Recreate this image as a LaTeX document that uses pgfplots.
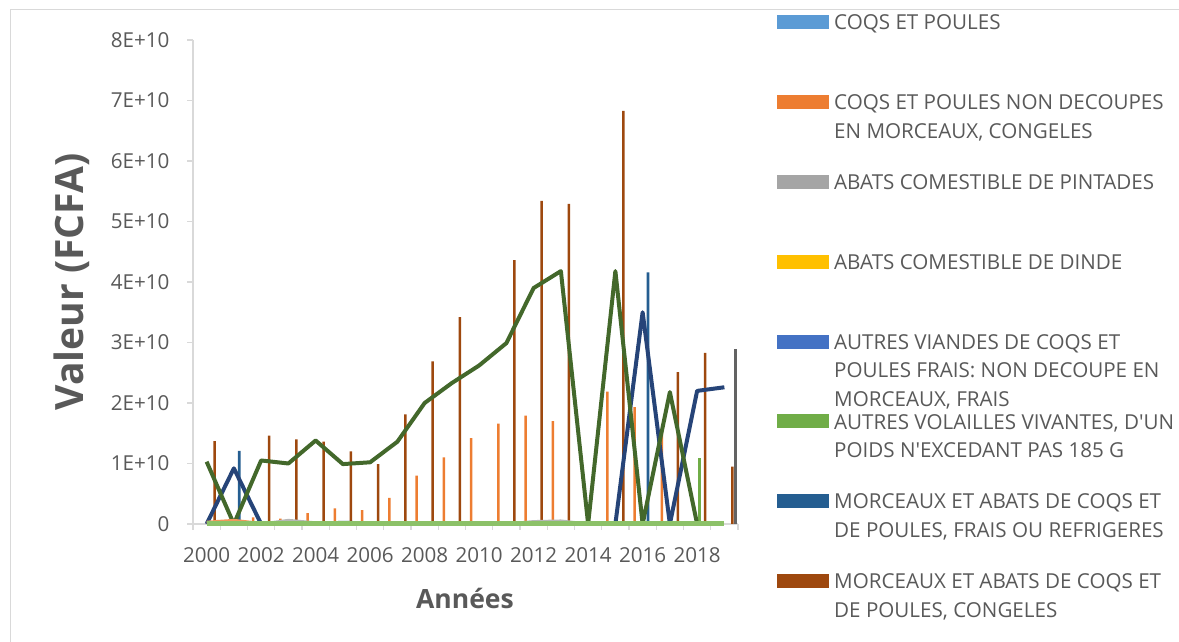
\documentclass[border=0pt]{standalone}
\usepackage{fontspec}
\setmainfont{Open Sans}
\usepackage{pgfplots}
\pgfplotsset{compat=1.18}
\definecolor{txt}{HTML}{595959}
\definecolor{axgray}{HTML}{D9D9D9}
\definecolor{cA}{HTML}{5B9BD5}
\definecolor{cB}{HTML}{ED7D31}
\definecolor{cC}{HTML}{A5A5A5}
\definecolor{cD}{HTML}{FFC000}
\definecolor{cE}{HTML}{4472C4}
\definecolor{cF}{HTML}{70AD47}
\definecolor{cG}{HTML}{255E91}
\definecolor{cH}{HTML}{9E480E}
\definecolor{cI}{HTML}{636363}
\definecolor{navy}{HTML}{264478}
\definecolor{dkgreen}{HTML}{43682B}
\definecolor{ltgreen}{HTML}{8CC168}
\definecolor{ltorange}{HTML}{F1975A}
\definecolor{ltgray}{HTML}{B7B7B7}

\begin{document}
\begin{tikzpicture}[x=1pt,y=1pt]
\path[use as bounding box] (0,0) rectangle (1179,642);
% chart frame (left and top edges only are visible)
\draw[axgray, line width=1pt] (10,0) -- (10,632) -- (1179,632);

\begin{axis}[at={(193pt,118pt)}, anchor=south west, scale only axis,
  width=545pt, height=484pt, xmin=-0.5, xmax=19.5, ymin=0, ymax=8e10,
  clip=false, axis lines*=left, scaled y ticks=false,
  axis line style={draw=axgray, line width=1.3pt},
  tick align=outside, major tick length=6pt, minor tick length=6pt,
  ytick={0,1e10,2e10,3e10,4e10,5e10,6e10,7e10,8e10},
  yticklabels={0,1E+10,2E+10,3E+10,4E+10,5E+10,6E+10,7E+10,8E+10},
  xtick={0,2,...,18},
  xticklabels={2000,2002,2004,2006,2008,2010,2012,2014,2016,2018},
  minor xtick={-0.5,0.5,...,19.5},
  major x tick style={draw=none},
  minor x tick style={draw=axgray, line width=1.3pt},
  major y tick style={draw=axgray, line width=1.3pt},
  tick label style={font=\fontsize{20.6}{24}\selectfont, text=txt},
  yticklabel style={xshift=-14pt},
  xticklabel style={yshift=-14pt},
  ylabel={Valeur (FCFA)}, xlabel={Années},
  ylabel style={font=\bfseries\fontsize{39}{39}\selectfont, text=txt,
    at={(axis description cs:-0.222,0.5)}, anchor=center},
  xlabel style={font=\bfseries\fontsize{26.5}{28}\selectfont, text=txt,
    at={(axis description cs:0.499,-0.153)}, anchor=center},
]
% bars (clustered, one slot of 2.67pt per series)
\addplot[ybar, bar width=2.6pt, bar shift=-8pt, fill=cB, draw=none] coordinates {
 (2,0.11e10) (3,0.09e10) (4,0.18e10) (5,0.26e10) (6,0.23e10) (7,0.43e10) (8,0.80e10)
 (9,1.10e10) (10,1.42e10) (11,1.66e10) (12,1.79e10) (13,1.70e10) (15,2.19e10)
 (16,1.93e10) (17,1.50e10)};
\addplot[ybar, bar width=2.6pt, bar shift=2.67pt, fill=cF, draw=none] coordinates {
 (18,1.09e10)};
\addplot[ybar, bar width=2.6pt, bar shift=5.33pt, fill=cG, draw=none] coordinates {
 (1,1.21e10) (16,4.16e10)};
\addplot[ybar, bar width=2.6pt, bar shift=8pt, fill=cH, draw=none] coordinates {
 (0,1.37e10) (2,1.46e10) (3,1.40e10) (4,1.36e10) (5,1.20e10) (6,0.99e10) (7,1.81e10)
 (8,2.69e10) (9,3.42e10) (11,4.36e10) (12,5.34e10) (13,5.29e10) (15,6.83e10)
 (17,2.51e10) (18,2.83e10) (19,0.95e10)};
\addplot[ybar, bar width=3pt, bar shift=10.67pt, fill=cI, draw=none] coordinates {
 (19,2.90e10)};
% lines
\addplot[navy, line width=4pt, line join=round, no marks] coordinates {
 (0,0) (1,0.92e10) (2,0) (3,0) (4,0) (5,0.02e10) (6,0.01e10) (7,0) (8,0) (9,0) (10,0)
 (11,0) (12,0) (13,0) (14,0) (15,0) (16,3.50e10) (17,0) (18,2.20e10) (19,2.26e10)};
\addplot[dkgreen, line width=4pt, line join=round, no marks] coordinates {
 (0,1.03e10) (1,0) (2,1.05e10) (3,1.00e10) (4,1.38e10) (5,0.99e10) (6,1.02e10)
 (7,1.36e10) (8,2.00e10) (9,2.33e10) (10,2.62e10) (11,2.99e10) (12,3.90e10)
 (13,4.18e10) (14,0) (15,4.18e10) (16,0) (17,2.18e10) (18,0)};
\addplot[ltorange, line width=3pt, line join=round, no marks] coordinates {
 (0,0.03e10) (1,0.06e10) (2,0.01e10) (3,0) (4,0)};
\addplot[ltgray, line width=3pt, line join=round, no marks] coordinates {
 (2,0) (3,0.06e10) (4,0.02e10) (5,0) (11,0) (12,0.04e10) (13,0.05e10) (14,0)};
\addplot[ltgreen, line width=5pt, no marks] coordinates {
 (0,0) (1,0) (2,0) (3,0) (4,0) (5,0) (6,0) (7,0) (8,0) (9,0) (10,0) (11,0) (12,0)
 (13,0) (14,0) (15,0) (16,0) (17,0) (18,0) (19,0)};
\end{axis}

% legend (cut off by the right edge, as in the source)
\begin{scope}[every node/.style={anchor=base west, inner sep=0pt, text=txt,
    font=\fontsize{20.6}{24}\selectfont}]
\fill[cA] (777,613) rectangle (829,627);
\node at (834,612.6) {COQS ET POULES};
\fill[cB] (777,533) rectangle (829,547);
\node at (834,532.6) {COQS ET POULES NON DECOUPES};
\node at (834,503.6) {EN MORCEAUX, CONGELES};
\fill[cC] (777,453) rectangle (829,467);
\node at (834,452.6) {ABATS COMESTIBLE DE PINTADES};
\fill[cD] (777,373) rectangle (829,387);
\node at (834,372.6) {ABATS COMESTIBLE DE DINDE};
\fill[cE] (777,293) rectangle (829,307);
\node at (834,292.6) {AUTRES VIANDES DE COQS ET};
\node at (834,264.6) {POULES FRAIS: NON DECOUPE EN};
\node at (834,235.6) {MORCEAUX, FRAIS};
\fill[cF] (777,214) rectangle (829,228);
\node at (834,212.6) {AUTRES VOLAILLES VIVANTES, D\textquotesingle UN};
\node at (834,184.6) {POIDS N\textquotesingle EXCEDANT PAS 185 G};
\fill[cG] (777,134) rectangle (829,148);
\node at (834,133.6) {MORCEAUX ET ABATS DE COQS ET};
\node at (834,104.6) {DE POULES, FRAIS OU REFRIGERES};
\fill[cH] (777,54) rectangle (829,68);
\node at (834,53.6) {MORCEAUX ET ABATS DE COQS ET};
\node at (834,24.6) {DE POULES, CONGELES};
\end{scope}
\end{tikzpicture}
\end{document}
